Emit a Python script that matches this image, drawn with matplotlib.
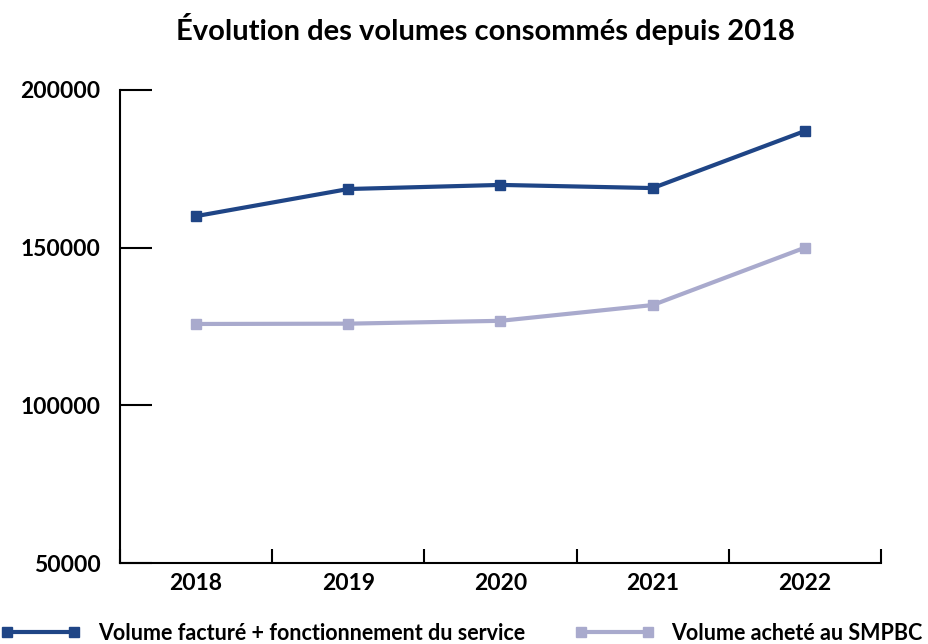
import matplotlib
matplotlib.use("Agg")
import matplotlib.pyplot as plt

# data
years = ["2018", "2019", "2020", "2021", "2022"]
volume_facture = [160000, 168600, 169900, 168900, 187000]
volume_achete = [125800, 125900, 126800, 131800, 150000]
yticks = [50000, 100000, 150000, 200000]

dark_blue = "#1f4586"
light_blue = "#a9aacd"

plt.rcParams["font.family"] = ["Lato", "DejaVu Sans"]
plt.rcParams["font.weight"] = "bold"

fig = plt.figure(figsize=(9.29, 6.44), dpi=100)
ax = fig.add_axes([120 / 929, 1 - 563 / 644, 761 / 929, 473 / 644])

x = range(len(years))
ax.plot(x, volume_facture, color=dark_blue, lw=3, marker="s", ms=7.5,
        label="Volume facturé + fonctionnement du service")
ax.plot(x, volume_achete, color=light_blue, lw=3, marker="s", ms=7.5,
        label="Volume acheté au SMPBC")

ax.set_xlim(-0.5, len(years) - 0.5)
ax.set_ylim(50000, 200000)
ax.set_yticks(yticks)
ax.set_yticklabels([str(v) for v in yticks], fontsize=16.5, fontweight="bold")
ax.set_xticks(list(x))
ax.set_xticklabels(years, fontsize=16.5, fontweight="bold")
ax.tick_params(axis="x", length=0, pad=7)
ax.tick_params(axis="y", direction="in", length=23, width=1.5, pad=14)

# category boundary ticks on the x axis
bounds = [i - 0.5 for i in range(len(years) + 1)]
ax.set_xticks(bounds, minor=True)
ax.tick_params(axis="x", which="minor", direction="in", length=10, width=1.5)

for s in ["top", "right"]:
    ax.spines[s].set_visible(False)
ax.spines["left"].set_linewidth(1.5)
ax.spines["bottom"].set_linewidth(1.5)

fig.text(0.523, 0.955, "Évolution des volumes consommés depuis 2018",
         ha="center", va="center", fontsize=21, fontweight="bold")

fig.legend(loc="center", bbox_to_anchor=(0.497, 0.017), ncol=2, frameon=False,
           handlelength=3.7, handletextpad=0.8, columnspacing=2.3, numpoints=2,
           prop={"weight": "bold", "size": 15.5})

fig.savefig("out.png", dpi=100)
